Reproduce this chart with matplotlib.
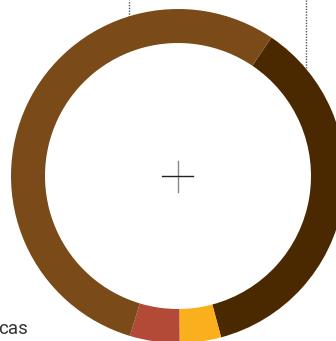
"""Donut chart recreated from the reference crop."""
import matplotlib.pyplot as plt

# slice shares (percent), clockwise from the upper-right boundary
labels = ['A', 'B', 'C', 'D']
shares = [36.4, 4.0, 4.8, 54.8]
colors = ['#4A2800', '#FAAF1D', '#B34A37', '#7B4A19']

W, H = 336, 341
fig = plt.figure(figsize=(W / 100, H / 100), dpi=100)
ax = fig.add_axes([0, 0, 1, 1])

cx, cy = 178, H - 176
ax.pie(shares, colors=colors, startangle=56, counterclock=False,
       radius=167, center=(cx, cy), frame=True,
       wedgeprops=dict(width=34, edgecolor='none'))
ax.set_xlim(0, W)
ax.set_ylim(0, H)
ax.set_aspect('equal')
ax.axis('off')

# crosshair in the middle
ax.plot([cx, cx], [cy - 16, cy + 15], color='#888888', lw=1)
ax.plot([cx - 16, cx + 15], [cy, cy], color='#222222', lw=1)

# leader lines going up to labels outside the crop
ax.plot([129, 129], [H - 17, H], color='#555555', lw=1, ls=(0, (1, 1)))
ax.plot([305.5, 305.5], [H - 68, H], color='#555555', lw=1, ls=(0, (1, 1)))

ax.text(28, H - 334, 'cas', ha='right', va='baseline',
        fontsize=13.5, color='#333333', family='Roboto')

fig.savefig('out.png', dpi=100)
